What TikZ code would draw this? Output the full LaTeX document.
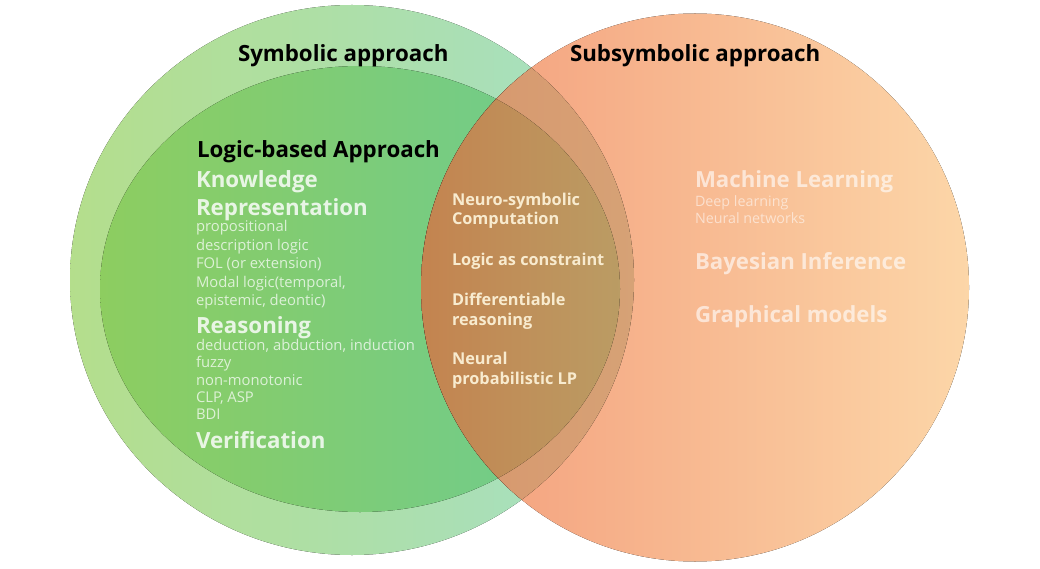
\documentclass[tikz,border=0pt]{standalone}
\usepackage{fontspec}
\setmainfont{Open Sans}
\definecolor{gOutL}{HTML}{B4DE8C}
\definecolor{gOutR}{HTML}{A6E0C6}
\definecolor{gInL}{HTML}{8DCD60}
\definecolor{gInR}{HTML}{6CCB92}
\definecolor{orL}{HTML}{F39C7A}
\definecolor{orR}{HTML}{FCD6A8}
\definecolor{brL}{HTML}{C4834F}
\definecolor{brR}{HTML}{BA9C64}
\definecolor{tanL}{HTML}{D8956C}
\definecolor{tanR}{HTML}{D6A276}
\definecolor{cream}{HTML}{F8EBCF}
\begin{document}
\begin{tikzpicture}[x=1pt,y=-1pt,
  txt/.style={anchor=base west, inner sep=0pt, outer sep=0pt},
  title/.style={txt, text=black, font=\bfseries\fontsize{22.3}{26}\selectfont},
  bigw/.style={txt, text=white, text opacity=0.82, font=\bfseries\fontsize{22.3}{26}\selectfont},
  smallw/.style={txt, text=white, text opacity=0.72, font=\fontsize{14.8}{17}\selectfont},
  mid/.style={txt, text=cream, font=\bfseries\fontsize{16.3}{19}\selectfont},
  bigr/.style={txt, text=white, text opacity=0.62, font=\bfseries\fontsize{22.2}{26}\selectfont},
  smallr/.style={txt, text=white, text opacity=0.55, font=\fontsize{14.3}{17}\selectfont}]
\useasboundingbox (0,0) rectangle (1040,569);
\fill[white] (0,0) rectangle (1040,569);
% symbolic circles
\fill[left color=gOutL, right color=gOutR] (352,280) ellipse [x radius=282pt, y radius=275pt];
\fill[left color=gInL, right color=gInR] (360,289) ellipse [x radius=260pt, y radius=223pt];
% subsymbolic circle
\fill[left color=orL, right color=orR] (695,287.5) circle [radius=274pt];
% overlaps
\begin{scope}
  \clip (695,287.5) circle [radius=274pt];
  \clip (352,280) ellipse [x radius=282pt, y radius=275pt];
  \fill[left color=tanL, right color=tanR] (418,0) rectangle (636,569);
\end{scope}
\begin{scope}
  \clip (695,287.5) circle [radius=274pt];
  \clip (360,289) ellipse [x radius=260pt, y radius=223pt];
  \fill[left color=brL, right color=brR] (418,0) rectangle (622,569);
\end{scope}
% titles
\node[title] (sym) at (238,62) {Symbolic approach};
\node[title] (sub) at (570,62) {Subsymbolic approach};
\node[title] (lba) at (197,158) {Logic-based Approach};
% left column
\node[bigw] (kr1) at (196,188) {Knowledge};
\node[bigw] (kr2) at (196,215) {Representation};
\node[smallw] (l1) at (196,232) {propositional};
\node[smallw] (l2) at (196,250) {description logic};
\node[smallw] (l3) at (196,268) {FOL (or extension)};
\node[smallw] (l4) at (196,287) {Modal logic(temporal,};
\node[smallw] (l5) at (196,305) {epistemic, deontic)};
\node[bigw] (rea) at (196,333) {Reasoning};
\node[smallw] (r1) at (196,350) {deduction, abduction, induction};
\node[smallw] (r2) at (196,367) {fuzzy};
\node[smallw] (r3) at (196,385) {non-monotonic};
\node[smallw] (r4) at (196,402) {CLP, ASP};
\node[smallw] (r5) at (196,419) {BDI};
\node[bigw] (ver) at (196,448) {Verification};
% middle column
\node[mid] (m1) at (452,206) {Neuro-symbolic};
\node[mid] (m2) at (452,225) {Computation};
\node[mid] (m3) at (452,265) {Logic as constraint};
\node[mid] (m4) at (452,305) {Differentiable};
\node[mid] (m5) at (452,325) {reasoning};
\node[mid] (m6) at (452,364) {Neural};
\node[mid] (m7) at (452,384) {probabilistic LP};
% right column
\node[bigr] (ml) at (695,188) {Machine Learning};
\node[smallr] (ml1) at (695,207) {Deep learning};
\node[smallr] (ml2) at (695,223) {Neural networks};
\node[bigr] (bi) at (695,269) {Bayesian Inference};
\node[bigr] (gm) at (695,322) {Graphical models};
\end{tikzpicture}
\end{document}
